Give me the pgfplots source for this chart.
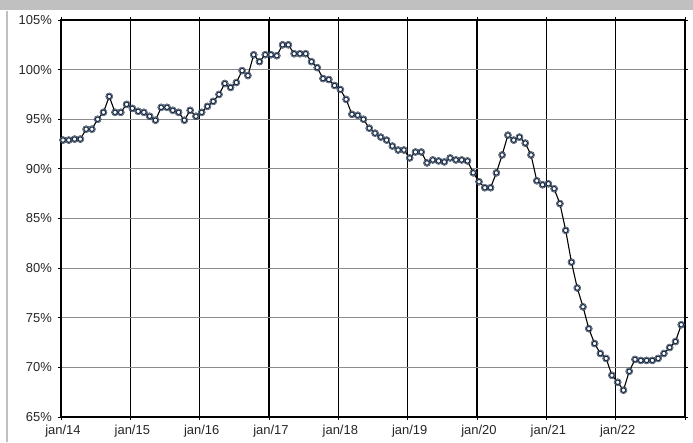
\documentclass[border=0pt]{standalone}
\usepackage{fontspec}
\setmainfont{Liberation Sans}
\usepackage{pgfplots}
\pgfplotsset{compat=1.18}
\usepackage{pgfplotstable}
\definecolor{halo}{RGB}{140,178,222}
\definecolor{mk}{RGB}{30,45,70}
\definecolor{band}{RGB}{192,192,192}
\pgfplotstableread{
m v
0 92.9
1 92.9
2 93.0
3 93.0
4 94.0
5 94.0
6 95.0
7 95.7
8 97.3
9 95.7
10 95.7
11 96.5
12 96.1
13 95.8
14 95.7
15 95.3
16 94.9
17 96.2
18 96.2
19 95.9
20 95.7
21 94.9
22 95.9
23 95.3
24 95.7
25 96.3
26 96.8
27 97.5
28 98.6
29 98.2
30 98.7
31 99.9
32 99.4
33 101.5
34 100.8
35 101.5
36 101.5
37 101.4
38 102.5
39 102.5
40 101.6
41 101.6
42 101.6
43 100.8
44 100.2
45 99.1
46 99.0
47 98.4
48 98.0
49 97.0
50 95.5
51 95.4
52 95.0
53 94.1
54 93.6
55 93.2
56 92.9
57 92.3
58 91.9
59 91.9
60 91.1
61 91.7
62 91.7
63 90.6
64 90.9
65 90.8
66 90.7
67 91.1
68 90.9
69 90.9
70 90.8
71 89.6
72 88.7
73 88.1
74 88.1
75 89.6
76 91.4
77 93.4
78 92.9
79 93.2
80 92.6
81 91.4
82 88.8
83 88.4
84 88.5
85 88.0
86 86.5
87 83.8
88 80.6
89 78.0
90 76.1
91 73.9
92 72.4
93 71.4
94 70.9
95 69.2
96 68.5
97 67.7
98 69.6
99 70.8
100 70.7
101 70.7
102 70.7
103 70.9
104 71.4
105 72.0
106 72.6
107 74.3
}\datatable
\begin{document}
\begin{tikzpicture}
\fill[white] (0,0) rectangle (693bp,442bp);
\fill[band] (0,432bp) rectangle (693bp,442bp);
\draw[band, line width=1.5bp] (7bp,0) -- (7bp,431bp);
\begin{axis}[
  at={(61bp,25bp)}, anchor=south west,
  scale only axis, width=624bp, height=397bp,
  xmin=0, xmax=108, ymin=65, ymax=105,
  xtick={0,12,...,108},
  xticklabels={jan/14,jan/15,jan/16,jan/17,jan/18,jan/19,jan/20,jan/21,jan/22,},
  ytick={65,70,...,105},
  yticklabels={65\%,70\%,75\%,80\%,85\%,90\%,95\%,100\%,105\%},
  xmajorgrids, ymajorgrids,
  x grid style={black, line width=1.1bp},
  y grid style={black!45, line width=1.1bp},
  axis line style={black, line width=1.1bp},
  tick align=outside, major tick length=3bp,
  tick style={black, line width=0.9bp},
  tick label style={font=\fontsize{13}{15}\selectfont, text=black!85},
  xticklabel style={inner sep=0pt, anchor=north, yshift=-5bp, xshift=2bp},
  yticklabel style={inner sep=0pt, anchor=east, xshift=-6bp},
]
\addplot[only marks, mark=*, mark size=3.6bp, mark options={draw=none, fill=halo, opacity=0.75}]
  table[x expr=\thisrow{m}+0.35, y=v]{\datatable};
\addplot[black, line width=1.1bp, mark=*, mark size=2.3bp, mark options={fill=white, draw=mk, line width=1.1bp}]
  table[x expr=\thisrow{m}+0.35, y=v]{\datatable};
\end{axis}
\end{tikzpicture}
\end{document}
